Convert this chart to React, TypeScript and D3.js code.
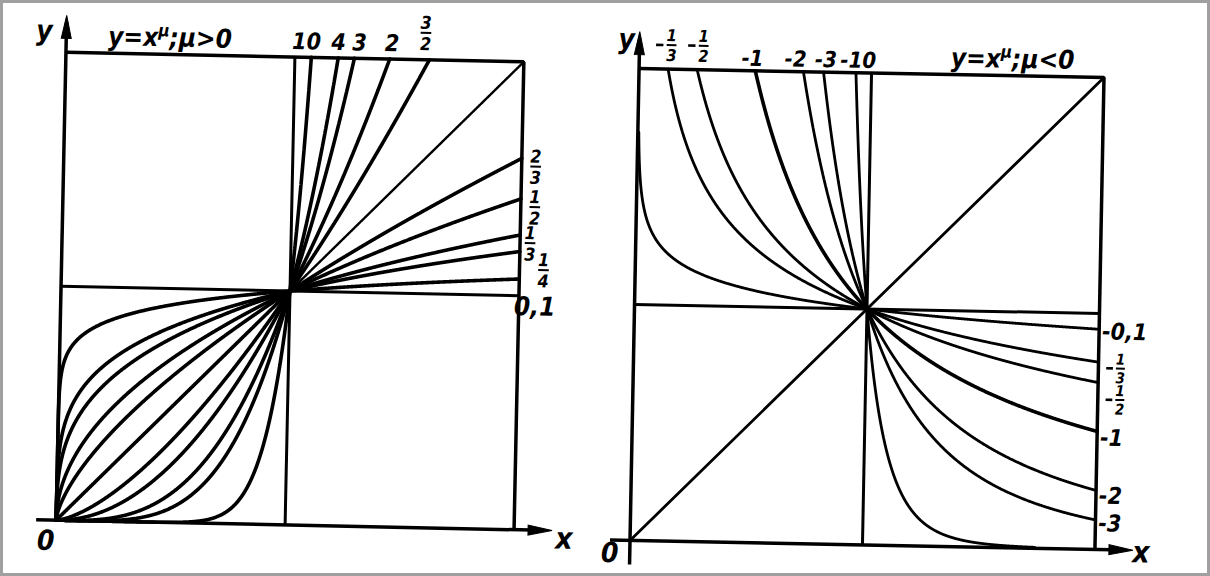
import React from 'react'
import * as d3 from 'd3'

// left figure: y = x^mu, mu > 0
const posMu = [10, 4, 3, 2, 3 / 2, 1, 2 / 3, 1 / 2, 1 / 3, 1 / 4, 0.1]
const posTopMu = [10, 4, 3, 2, 3 / 2]
const posTopText = ['10', '4', '3', '2', '3/2']
const posSideMu = [2 / 3, 1 / 2, 1 / 3, 1 / 4, 0.1]
const posSideText = ['2/3', '1/2', '1/3', '1/4', '0,1']

// right figure: y = x^mu, mu < 0
const negMu = [-0.1, -1 / 3, -1 / 2, -1, -2, -3, -10]
const negTopMu = [-1 / 3, -1 / 2, -1, -2, -3, -10]
const negTopText = ['-1/3', '-1/2', '-1', '-2', '-3', '-10']
const negSideMu = [-0.1, -1 / 3, -1 / 2, -1, -2, -3]
const negSideText = ['-0,1', '-1/3', '-1/2', '-1', '-2', '-3']

// the drawing stops two curves short of the frame
const negFirstTopY = 1.73 // mu=-0.1 starts at y=1.73
const negLastEndX = 1.74 // mu=-10 ends at x=1.74

const W = 1210
const H = 576
const FONT = "'DejaVu Sans Condensed', 'Liberation Sans Narrow', 'DejaVu Sans', sans-serif"

// nudges for the labels (px, relative to curve end)
const posTopDx = [-5, 0, 5, 2, -4]
const posSideDy = [8, 8, 8, 18, 36]
const posSideDx = [14, 14, 10, 24, 16]
const negSideDy = [1, 6, 17, 5, 4, 2]
const negTopDx = [3, 6, -3, -8, 2, 2]

const txt: any = { fontFamily: FONT, fontStyle: 'italic', fontWeight: 'bold', fontStretch: 'condensed' }

function powerPoints(mu: number, x0: number, x1: number, n = 400): [number, number][] {
  const lo = Math.min(x0, x1), hi = Math.max(x0, x1)
  const y0 = Math.pow(lo, mu), y1 = Math.pow(hi, mu)
  const xs = d3.range(n + 1).map(i => lo + (hi - lo) * i / n)
  const fromY = d3.range(n + 1).map(i => Math.pow(y0 + (y1 - y0) * i / n, 1 / mu))
  const all = xs.concat(fromY).filter(x => isFinite(x) && x >= lo && x <= hi)
  all.sort((a, b) => a - b)
  return all.map(x => [x, Math.pow(x, mu)] as [number, number])
}

const Label = ({ x, y, text, fs, anchor = 'middle' }: any) => {
  const neg = text.startsWith('-')
  const body = neg ? text.slice(1) : text
  const parts = body.split('/')
  if (parts.length < 2) {
    return <text x={x} y={y} fontSize={fs} textAnchor={anchor} style={txt}>{text}</text>
  }
  const f = fs * 0.68
  return (
    <g>
      {neg && <line x1={x - f * 0.95} x2={x - f * 0.5} y1={y} y2={y} stroke="#000" strokeWidth={2.6} />}
      <line x1={x - f * 0.3} x2={x + f * 0.3} y1={y} y2={y} stroke="#000" strokeWidth={2} />
      <text x={x} y={y - 4} fontSize={f} textAnchor="middle" style={txt}>{parts[0]}</text>
      <text x={x} y={y + f * 0.98} fontSize={f} textAnchor="middle" style={txt}>{parts[1]}</text>
    </g>
  )
}

const Title = ({ x, y, sign }: any) => (
  <text x={x} y={y} fontSize={26} style={txt}>
    y=x<tspan dy={-10} fontSize={17}>μ</tspan><tspan dy={10}>;μ{sign}0</tspan>
  </text>
)

const Axes = ({ xs, ys, below }: any) => {
  const x0 = xs(0), y0 = ys(0), x2 = xs(2), y2 = ys(2)
  return (
    <g stroke="#000" fill="none">
      <line x1={x0} x2={x0} y1={y0 + below} y2={y2 - 30} strokeWidth={3.5} />
      <path d={`M${x0},${y2 - 37} L${x0 - 5},${y2 - 14} L${x0 + 5},${y2 - 14} Z`} fill="#000" />
      <line x1={x0 - 20} x2={x2 + 30} y1={y0} y2={y0} strokeWidth={3.5} />
      <path d={`M${x2 + 38},${y0} L${x2 + 14},${y0 - 5} L${x2 + 14},${y0 + 5} Z`} fill="#000" />
      <line x1={x0} x2={x2} y1={y2} y2={y2} strokeWidth={3.5} />
      <line x1={x2} x2={x2} y1={y0} y2={y2} strokeWidth={3.5} />
      <line x1={xs(1)} x2={xs(1)} y1={y0} y2={y2} strokeWidth={3} />
      <line x1={x0} x2={x2} y1={ys(1)} y2={ys(1)} strokeWidth={3} />
    </g>
  )
}

export default function App() {
  // left panel
  const lx = d3.scaleLinear().domain([0, 2]).range([61, 519])
  const ly = d3.scaleLinear().domain([0, 2]).range([525, 57])
  const lline = d3.line<[number, number]>().x(d => lx(d[0])).y(d => ly(d[1]))

  // right panel
  const rx = d3.scaleLinear().domain([0, 2]).range([634.5, 1099.5])
  const ry = d3.scaleLinear().domain([0, 2]).range([545, 73])
  const rline = d3.line<[number, number]>().x(d => rx(d[0])).y(d => ry(d[1]))

  return (
    <svg width={W} height={H} style={{ position: 'absolute', left: 0, top: 0, background: '#fff' }}>
      <rect x={1.5} y={1.5} width={W - 3} height={H - 3} fill="#fff" stroke="#a0a0a0" strokeWidth={3} />

      <g transform="rotate(1.2 290 291)">
        <Axes xs={lx} ys={ly} below={0} />
        <g fill="none" stroke="#000" strokeLinecap="round">
          {posMu.map(mu => (
            <path key={'ll' + mu} d={lline(powerPoints(mu, 0, 1)) || ''} strokeWidth={3.6} />
          ))}
          {posMu.map(mu => (
            <path key={'ur' + mu}
              d={lline(powerPoints(mu, 1, mu > 1 ? Math.pow(2, 1 / mu) : 2)) || ''}
              strokeWidth={mu === 1 ? 2.4 : 3.6} />
          ))}
        </g>
        <text x={lx(0) - 22} y={ly(2) - 12} fontSize={28} textAnchor="middle" style={txt}>y</text>
        <Title x={103} y={ly(2) - 8} sign=">" />
        {posTopMu.map((mu, i) => (
          posTopText[i].includes('/')
            ? <Label key={'pt' + i} x={lx(Math.pow(2, 1 / mu)) + posTopDx[i]} y={ly(2) - 27} text={posTopText[i]} fs={26} />
            : <Label key={'pt' + i} x={lx(Math.pow(2, 1 / mu)) + posTopDx[i]} y={ly(2) - 8} text={posTopText[i]} fs={23} />
        ))}
        {posSideMu.map((mu, i) => (
          <Label key={'ps' + i} x={lx(2) + posSideDx[i]} y={ly(Math.pow(2, mu)) + posSideDy[i]} text={posSideText[i]} fs={26} />
        ))}
        <text x={lx(0) - 10} y={ly(0) + 30} fontSize={28} textAnchor="middle" style={txt}>0</text>
        <text x={lx(2) + 50} y={ly(0) + 18} fontSize={30} textAnchor="middle" style={txt}>x</text>
      </g>

      <g transform="rotate(1.1 867 309)">
        <Axes xs={rx} ys={ry} below={24} />
        <g fill="none" stroke="#000" strokeLinecap="round">
          <path d={rline([[0, 0], [2, 2]]) || ''} strokeWidth={2.8} />
          {negMu.map((mu, i) => (
            <path key={'ul' + mu}
              d={rline(powerPoints(mu, i === 0 ? Math.pow(negFirstTopY, 1 / mu) : Math.pow(2, 1 / mu), 1)) || ''}
              strokeWidth={mu === -1 ? 3.6 : 2.8} />
          ))}
          {negMu.map((mu, i) => (
            <path key={'lr' + mu}
              d={rline(powerPoints(mu, 1, i === negMu.length - 1 ? negLastEndX : 2)) || ''}
              strokeWidth={mu === -1 ? 3.6 : 2.8} />
          ))}
        </g>
        <text x={rx(0) - 13} y={ry(2) - 20} fontSize={28} textAnchor="middle" style={txt}>y</text>
        <Title x={946} y={ry(2) - 8} sign="<" />
        {negTopMu.map((mu, i) => (
          negTopText[i].includes('/')
            ? <Label key={'nt' + i} x={rx(Math.pow(2, 1 / mu)) + negTopDx[i]} y={ry(2) - 24} text={negTopText[i]} fs={24} />
            : <Label key={'nt' + i} x={rx(Math.pow(2, 1 / mu)) + negTopDx[i]} y={ry(2) - 5} text={negTopText[i]} fs={22} />
        ))}
        {negSideMu.map((mu, i) => (
          negSideText[i].includes('/')
            ? <Label key={'ns' + i} x={rx(2) + 22} y={ry(Math.pow(2, mu)) + negSideDy[i]} text={negSideText[i]} fs={22} />
            : <Label key={'ns' + i} x={rx(2) + 3} y={ry(Math.pow(2, mu)) + negSideDy[i] + 9} text={negSideText[i]} fs={23} anchor="start" />
        ))}
        <text x={rx(0) - 20} y={ry(0) + 22} fontSize={28} textAnchor="middle" style={txt}>0</text>
        <text x={rx(2) + 46} y={ry(0) + 12} fontSize={30} textAnchor="middle" style={txt}>x</text>
      </g>
    </svg>
  )
}
